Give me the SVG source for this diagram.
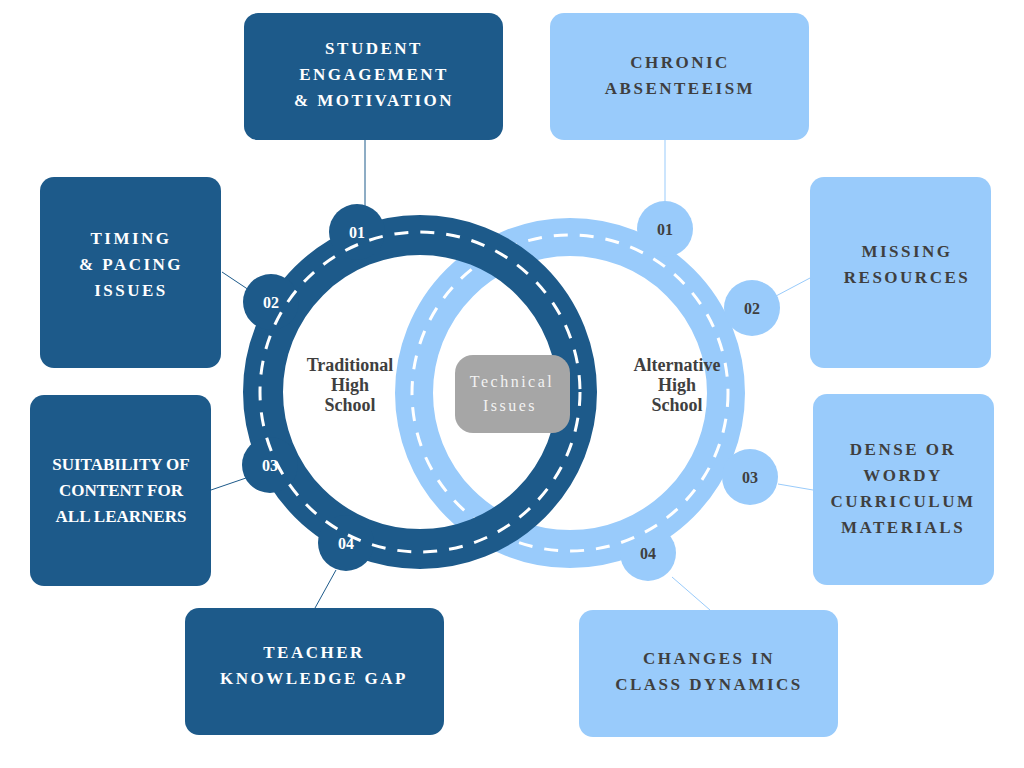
<svg xmlns="http://www.w3.org/2000/svg" width="1024" height="768" viewBox="0 0 1024 768">
<style>
.d{fill:#1d5a8a}.l{fill:#99cbfb}
.t{font-family:"Liberation Serif",serif;font-weight:bold;font-size:17px;letter-spacing:2.5px;text-anchor:middle}
.w{fill:#fff}.g{fill:#3f3f3f}
.n{font-family:"Liberation Serif",serif;font-weight:bold;font-size:16px;text-anchor:middle}
.c{font-family:"Liberation Serif",serif;font-weight:bold;font-size:18px;text-anchor:middle;fill:#3f3f3f}
.cd{stroke:#1d5a8a;stroke-width:1}.cl{stroke:#99cbfb;stroke-width:1}
</style>
<g id="connectors">
<line class="cd" x1="365" y1="140" x2="365" y2="210"/>
<line class="cd" x1="222" y1="272" x2="252" y2="292"/>
<line class="cd" x1="211" y1="490" x2="246" y2="478"/>
<line class="cd" x1="315" y1="608" x2="336" y2="570"/>
<line class="cl" x1="665" y1="140" x2="665" y2="205"/>
<line class="cl" x1="810" y1="278" x2="776" y2="296"/>
<line class="cl" x1="813" y1="490" x2="778" y2="484"/>
<line class="cl" x1="710" y1="610" x2="672" y2="577"/>
</g>
<g id="ring-alternative">
<circle cx="570" cy="393" r="156" fill="none" stroke="#99cbfb" stroke-width="38"/>
<circle class="l" cx="665" cy="229" r="28"/><circle class="l" cx="752" cy="308" r="28"/>
<circle class="l" cx="750" cy="477" r="28"/><circle class="l" cx="648" cy="553" r="28"/>
<circle cx="570" cy="393" r="158" fill="none" stroke="#fff" stroke-width="3" stroke-dasharray="14 12"/>
<text class="n g" x="665" y="235">01</text><text class="n g" x="752" y="314">02</text>
<text class="n g" x="750" y="483">03</text><text class="n g" x="648" y="559">04</text>
<text class="c" x="677" y="371">Alternative</text><text class="c" x="677" y="391">High</text><text class="c" x="677" y="411">School</text>
</g>
<g id="ring-traditional">
<circle cx="420" cy="392" r="157" fill="none" stroke="#1d5a8a" stroke-width="40"/>
<circle class="d" cx="357" cy="232" r="28"/><circle class="d" cx="271" cy="302" r="28"/>
<circle class="d" cx="270" cy="465" r="28"/><circle class="d" cx="346" cy="543" r="28"/>
<circle cx="420" cy="392" r="160" fill="none" stroke="#fff" stroke-width="3" stroke-dasharray="14 12"/>
<text class="n w" x="357" y="238">01</text><text class="n w" x="271" y="308">02</text>
<text class="n w" x="270" y="471">03</text><text class="n w" x="346" y="549">04</text>
<text class="c" x="350" y="371">Traditional</text><text class="c" x="350" y="391">High</text><text class="c" x="350" y="411">School</text>
</g>
<g id="technical">
<rect x="455" y="355" width="115" height="78" rx="18" fill="#a6a6a6"/>
<text class="t" x="512" y="387" style="font-size:16px;font-weight:normal;fill:#f2f2f2">Technical</text>
<text class="t" x="510" y="411" style="font-size:16px;font-weight:normal;fill:#f2f2f2">Issues</text>
</g>
<g id="student"><rect class="d" x="244" y="13" width="259" height="127" rx="14"/>
<text class="t w" x="374" y="54">STUDENT</text><text class="t w" x="374" y="80">ENGAGEMENT</text><text class="t w" x="374" y="106">&amp; MOTIVATION</text></g>
<g id="timing"><rect class="d" x="40" y="177" width="181" height="191" rx="14"/>
<text class="t w" x="131" y="244">TIMING</text><text class="t w" x="131" y="270">&amp; PACING</text><text class="t w" x="131" y="296">ISSUES</text></g>
<g id="suitability"><rect class="d" x="30" y="395" width="181" height="191" rx="14"/>
<text class="t w" x="121" y="470" style="letter-spacing:0">SUITABILITY OF</text><text class="t w" x="121" y="496" style="letter-spacing:0">CONTENT FOR</text><text class="t w" x="121" y="522" style="letter-spacing:0">ALL LEARNERS</text></g>
<g id="teacher"><rect class="d" x="185" y="608" width="259" height="127" rx="14"/>
<text class="t w" x="314" y="658">TEACHER</text><text class="t w" x="314" y="684">KNOWLEDGE GAP</text></g>
<g id="chronic"><rect class="l" x="550" y="13" width="259" height="127" rx="14"/>
<text class="t g" x="680" y="68">CHRONIC</text><text class="t g" x="680" y="94">ABSENTEEISM</text></g>
<g id="missing"><rect class="l" x="810" y="177" width="181" height="191" rx="14"/>
<text class="t g" x="907" y="257">MISSING</text><text class="t g" x="907" y="283">RESOURCES</text></g>
<g id="dense"><rect class="l" x="813" y="394" width="181" height="191" rx="14"/>
<text class="t g" x="903" y="455">DENSE OR</text><text class="t g" x="903" y="481">WORDY</text><text class="t g" x="903" y="507">CURRICULUM</text><text class="t g" x="903" y="533">MATERIALS</text></g>
<g id="changes"><rect class="l" x="579" y="610" width="259" height="127" rx="14"/>
<text class="t g" x="709" y="664">CHANGES IN</text><text class="t g" x="709" y="690">CLASS DYNAMICS</text></g>
</svg>
